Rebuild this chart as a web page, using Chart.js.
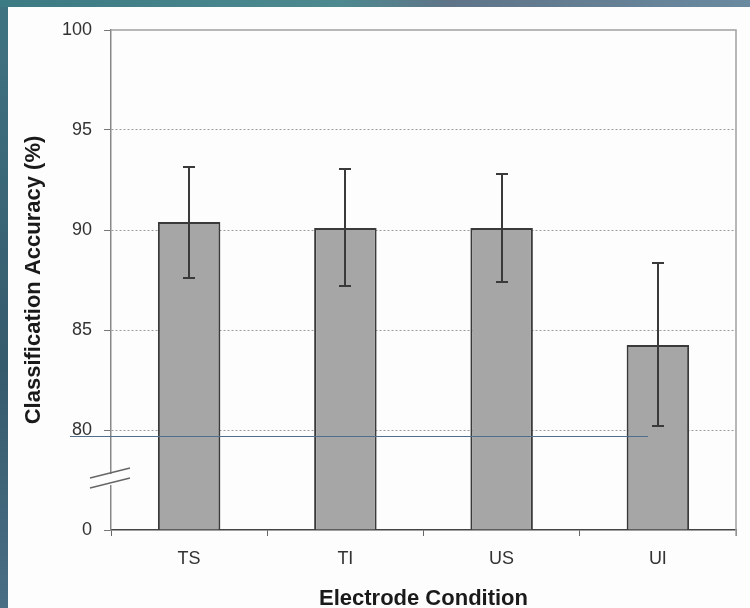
<!DOCTYPE html>
<html>
<head>
<meta charset="utf-8">
<script src="https://cdn.jsdelivr.net/npm/chart.js@4/dist/chart.umd.min.js"></script>
<style>
  html, body { margin: 0; padding: 0; }
  body {
    width: 750px; height: 608px; overflow: hidden; position: relative;
    background: linear-gradient(180deg, #3f7482 0%, #355a6c 60%, #4a6f85 100%);
  }
  .topband {
    position: absolute; left: 0; top: 0; width: 750px; height: 7px;
    background: linear-gradient(90deg, #3c7a84 0%, #4d8a90 45%, #5f7488 60%, #6a8aa0 100%);
  }
  .panel {
    position: absolute; left: 8px; top: 7px; width: 742px; height: 601px; background: #fdfdfd;
  }
  canvas { display: block; }
</style>
</head>
<body>
<div class="topband"></div>
<div class="panel"><canvas id="chart" width="742" height="601"></canvas></div>
<script>
// electrode conditions and mean accuracy with error bar ends
const conditions = ["TS", "TI", "US", "UI"];
const accuracy = [90.4, 90.1, 90.1, 84.25];
const errHigh = [93.15, 93.05, 92.8, 88.35];
const errLow = [87.6, 87.2, 87.4, 80.2];
const yTicks = [0, 80, 85, 90, 95, 100];
const xTitle = "Electrode Condition";
const yTitle = "Classification Accuracy (%)";

// the axis is broken: 0 sits one step below 80
const AXIS_ZERO = 75;
const FONT = "Liberation Sans";

const errorBars = {
  id: "errorBars",
  afterDatasetsDraw(chart) {
    const { ctx, scales: { x, y } } = chart;
    ctx.save();
    ctx.strokeStyle = "#3a3a3a";
    ctx.lineWidth = 2;
    conditions.forEach((c, i) => {
      const px = Math.round(x.getPixelForValue(i));
      const top = y.getPixelForValue(errHigh[i]);
      const bot = y.getPixelForValue(errLow[i]);
      ctx.beginPath();
      ctx.moveTo(px, top); ctx.lineTo(px, bot);
      ctx.moveTo(px - 6, top); ctx.lineTo(px + 6, top);
      ctx.moveTo(px - 6, bot); ctx.lineTo(px + 6, bot);
      ctx.stroke();
    });
    ctx.restore();
  }
};

const frame = {
  id: "frame",
  beforeDatasetsDraw(chart) {
    const { ctx, chartArea: a } = chart;
    ctx.save();
    ctx.strokeStyle = "#a0a0a0";
    ctx.lineWidth = 1.5;
    ctx.beginPath();
    ctx.moveTo(a.left, a.top); ctx.lineTo(a.right, a.top); ctx.lineTo(a.right, a.bottom + 6);
    ctx.stroke();
    ctx.restore();
  },
  afterDraw(chart) {
    const { ctx, chartArea: a, scales: { y } } = chart;
    ctx.save();
    // axis break marks
    const yb = (y.getPixelForValue(80) + a.bottom) / 2;
    ctx.fillStyle = "#fdfdfd";
    ctx.fillRect(a.left - 4, yb - 6, 8, 11);
    ctx.strokeStyle = "#666";
    ctx.lineWidth = 1.3;
    ctx.beginPath();
    ctx.moveTo(a.left - 21, yb - 2); ctx.lineTo(a.left + 19, yb - 12);
    ctx.moveTo(a.left - 21, yb + 8); ctx.lineTo(a.left + 19, yb - 2);
    ctx.stroke();
    // thin blue line from the source slide
    const yl = Math.round(y.getPixelForValue(79.7)) + 0.5;
    ctx.strokeStyle = "#4d6f8e";
    ctx.lineWidth = 1;
    ctx.beginPath();
    ctx.moveTo(62, yl); ctx.lineTo(640, yl);
    ctx.stroke();
    // axis titles
    ctx.fillStyle = "#1a1a1a";
    ctx.font = "bold 22px '" + FONT + "'";
    ctx.textAlign = "center";
    ctx.textBaseline = "middle";
    ctx.fillText(xTitle, (a.left + a.right) / 2, 592);
    ctx.translate(26, (a.top + a.bottom) / 2);
    ctx.rotate(-Math.PI / 2);
    ctx.fillText(yTitle, 0, 0);
    ctx.restore();
  }
};

new Chart(document.getElementById("chart"), {
  type: "bar",
  data: {
    labels: conditions,
    datasets: [{
      data: accuracy,
      backgroundColor: "#a6a6a6",
      borderColor: "#3a3a3a",
      borderWidth: 2,
      barPercentage: 0.4,
      categoryPercentage: 1.0,
      base: AXIS_ZERO
    }]
  },
  options: {
    responsive: false,
    animation: false,
    layout: { padding: { top: 23, right: 14, left: 0, bottom: 0 } },
    plugins: { legend: { display: false }, tooltip: { enabled: false } },
    scales: {
      x: {
        grid: { drawOnChartArea: false, tickLength: 6, color: "#666", offset: true },
        border: { color: "#444", width: 1.5 },
        ticks: { color: "#333", font: { family: FONT, size: 18 }, padding: 12 },
        afterFit(s) { s.height = 78; }
      },
      y: {
        min: AXIS_ZERO, max: 100,
        afterBuildTicks(s) {
          s.ticks = yTicks.map(v => ({ value: v === 0 ? AXIS_ZERO : v }));
        },
        grid: {
          color: ctx => (ctx.tick && ctx.tick.value > AXIS_ZERO && ctx.tick.value < 100) ? "#9a9a9a" : "rgba(0,0,0,0)",
          tickColor: "#777",
          tickBorderDash: [],
          tickLength: 7,
          lineWidth: 1
        },
        border: { color: "#888", width: 1.5, dash: [2, 2] },
        ticks: {
          color: "#333",
          font: { family: FONT, size: 18 },
          padding: 12,
          callback: v => v === AXIS_ZERO ? "0" : String(v)
        },
        afterFit(s) { s.width = 103; }
      }
    }
  },
  plugins: [frame, errorBars]
});
</script>
</body>
</html>
